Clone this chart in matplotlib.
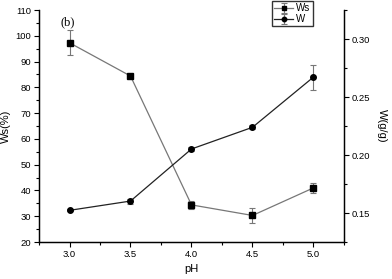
import matplotlib

matplotlib.use("Agg")
import matplotlib.pyplot as plt
from matplotlib.ticker import MultipleLocator

ph = [3.0, 3.5, 4.0, 4.5, 5.0]
ws_pct = [97.3, 84.4, 34.4, 30.3, 41.0]
ws_err = [4.8, 0.6, 1.5, 3.0, 2.0]
w_gg = [0.1523, 0.1603, 0.2052, 0.2239, 0.2672]
w_err = [0.0008, 0.0022, 0.0016, 0.0016, 0.0108]

plt.rcParams["font.family"] = ["Liberation Sans", "DejaVu Sans"]

fig = plt.figure(figsize=(3.92, 2.79), dpi=100)
ax = fig.add_axes([0.0995, 0.1326, 0.778, 0.8314])
ax2 = ax.twinx()

l1 = ax.errorbar(ph, ws_pct, yerr=ws_err, color="#777777", marker="s", ms=3.8,
                 mfc="black", mec="black", lw=0.9, ecolor="#777777", elinewidth=0.8,
                 capsize=2, capthick=0.8, label="Ws")
l2 = ax2.errorbar(ph, w_gg, yerr=w_err, color="#222222", marker="o", ms=4,
                  mfc="black", mec="black", lw=0.9, ecolor="#777777", elinewidth=0.8,
                  capsize=2, capthick=0.8, label="W")

ax.set_xlim(2.75, 5.25)
ax.set_ylim(20, 110)
ax2.set_ylim(0.125, 0.325)
ax.set_xticks(ph)
ax.xaxis.set_minor_locator(MultipleLocator(0.25))
ax.yaxis.set_major_locator(MultipleLocator(10))
ax.yaxis.set_minor_locator(MultipleLocator(5))
ax2.set_yticks([0.15, 0.20, 0.25, 0.30])
ax2.yaxis.set_minor_locator(MultipleLocator(0.025))

for a in (ax, ax2):
    a.spines["top"].set_visible(False)
    for s in a.spines.values():
        s.set_linewidth(0.9)
    a.tick_params(which="major", length=3.5, width=0.8, labelsize=6.8, pad=2)
    a.tick_params(which="minor", length=2, width=0.8)

ax.set_xlabel("pH", fontsize=8, labelpad=4)
ax.set_ylabel("Ws(%)", fontsize=8, labelpad=3)
ax2.set_ylabel("W(g/g)", fontsize=8, rotation=270, labelpad=12)

ax.text(0.072, 0.975, "(b)", transform=ax.transAxes, fontsize=9,
        family="Liberation Serif", ha="left", va="top")

fig.legend([l1, l2], ["Ws", "W"], loc="upper left", bbox_to_anchor=(0.694, 0.995),
           fontsize=7, frameon=True, fancybox=False, edgecolor="black",
           borderpad=0.2, handlelength=2.0, handletextpad=0.3, labelspacing=0.1,
           borderaxespad=0, markerscale=0.8)

fig.savefig("out.png", dpi=100)
